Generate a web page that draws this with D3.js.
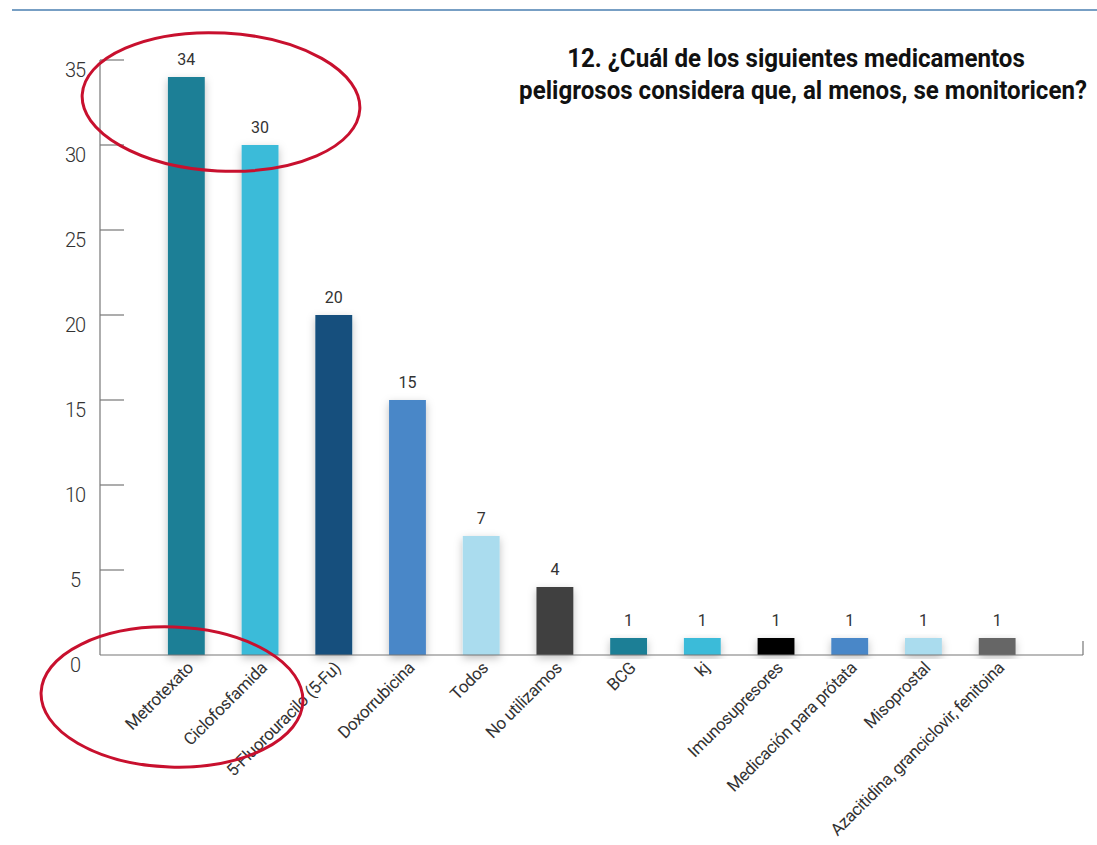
<!DOCTYPE html>
<html>
<head>
<meta charset="utf-8">
<script src="https://cdn.jsdelivr.net/npm/d3@7"></script>
<style>
  body { margin: 0; background: #fff; }
  svg { display: block; font-family: Roboto, "Noto Sans", sans-serif; }
</style>
</head>
<body>
<div id="container"></div>
<script>
/* chart data */
var categories = ["Metrotexato", "Ciclofosfamida", "5-Fluorouracilo (5-Fu)", "Doxorrubicina",
                  "Todos", "No utilizamos", "BCG", "kj", "Imunosupresores",
                  "Medicación para prótata", "Misoprostal", "Azacitidina, granciclovir, fenitoina"];
var values = [34, 30, 20, 15, 7, 4, 1, 1, 1, 1, 1, 1];
var barColors = ["#1f7f96", "#3bbbd9", "#14507d", "#4a87c8", "#aadcee", "#404040",
                 "#1f7f96", "#3bbbd9", "#000000", "#4a87c8", "#aadcee", "#666666"];
var yTicks = [0, 5, 10, 15, 20, 25, 30, 35];
var titleLines = ["12. ¿Cuál de los siguientes medicamentos",
                  "peligrosos considera que, al menos, se monitoricen?"];

var width = 1097, height = 845;

var svg = d3.select("#container").append("svg")
    .attr("width", width)
    .attr("height", height);

// soft shadow behind bars
var defs = svg.append("defs");
var f = defs.append("filter").attr("id", "shadow")
    .attr("x", "-50%").attr("y", "-20%").attr("width", "200%").attr("height", "140%");
f.append("feDropShadow").attr("dx", 0).attr("dy", 3).attr("stdDeviation", 4.5)
    .attr("flood-color", "#000").attr("flood-opacity", 0.25);

// top rule
svg.append("line")
    .attr("x1", 12).attr("x2", width).attr("y1", 10).attr("y2", 10)
    .attr("stroke", "#4a7fb0").attr("stroke-width", 1.5);

var x = d3.scaleBand()
    .domain(categories)
    .range([149.5, 1034])
    .paddingInner(0.5)
    .paddingOuter(0.25);

var y = d3.scaleLinear()
    .domain([0, 35])
    .range([655, 60]);

// y axis
var yAxis = svg.append("g").attr("transform", "translate(100,0)");
yAxis.append("line")
    .attr("x1", 0).attr("x2", 0).attr("y1", y(35)).attr("y2", y(0))
    .attr("stroke", "#777").attr("stroke-width", 1.2);
yAxis.selectAll(".tick")
    .data(yTicks.filter(function(d) { return d > 0; }))
    .enter().append("line")
    .attr("x1", 0).attr("x2", 24)
    .attr("y1", function(d) { return y(d); })
    .attr("y2", function(d) { return y(d); })
    .attr("stroke", "#777").attr("stroke-width", 1.2);
yAxis.selectAll("text")
    .data(yTicks)
    .enter().append("text")
    .attr("x", -25)
    .attr("y", function(d) { return y(d) + 10; })
    .attr("dy", "0.35em")
    .attr("text-anchor", "middle")
    .attr("font-size", 20)
    .attr("font-weight", 300)
    .attr("letter-spacing", -1)
    .attr("fill", "#333")
    .text(function(d) { return d; });

// bars
svg.append("g").selectAll("rect")
    .data(values)
    .enter().append("rect")
    .attr("x", function(d, i) { return x(categories[i]); })
    .attr("y", function(d) { return y(d); })
    .attr("width", x.bandwidth())
    .attr("height", function(d) { return y(0) - y(d); })
    .attr("fill", function(d, i) { return barColors[i]; })
    .attr("filter", "url(#shadow)");

// x axis baseline + end tick
svg.append("line")
    .attr("x1", 100).attr("x2", 1083).attr("y1", y(0)).attr("y2", y(0))
    .attr("stroke", "#777").attr("stroke-width", 1.2);
svg.append("line")
    .attr("x1", 1083).attr("x2", 1083).attr("y1", y(0) - 14).attr("y2", y(0))
    .attr("stroke", "#777").attr("stroke-width", 1.2);

// value labels
svg.append("g").selectAll("text")
    .data(values)
    .enter().append("text")
    .attr("x", function(d, i) { return x(categories[i]) + x.bandwidth() / 2; })
    .attr("y", function(d) { return y(d) - 12; })
    .attr("text-anchor", "middle")
    .attr("font-size", 16)
    .attr("fill", "#333")
    .text(function(d) { return d; });

// category labels
svg.append("g").selectAll("text")
    .data(categories)
    .enter().append("text")
    .attr("transform", function(d) {
        return "translate(" + (x(d) + x.bandwidth() / 2 + 8) + "," + (y(0) + 14) + ") rotate(-45)";
    })
    .attr("text-anchor", "end")
    .attr("font-size", 17)
    .attr("letter-spacing", -0.4)
    .attr("fill", "#333")
    .text(function(d) { return d; });

// title (bold, squeezed horizontally to look condensed)
var titleX = [796, 803], titleW = [458, 568];
svg.append("g").selectAll("text")
    .data(titleLines)
    .enter().append("text")
    .attr("text-anchor", "middle")
    .attr("font-size", 25)
    .attr("font-weight", 700)
    .attr("fill", "#111")
    .text(function(d) { return d; })
    .attr("transform", function(d, i) {
        var sx = titleW[i] / this.getComputedTextLength();
        return "translate(" + titleX[i] + "," + (67 + i * 32) + ") scale(" + sx + ",1)";
    });

// red hand-drawn highlight ellipses
svg.append("ellipse")
    .attr("cx", 221).attr("cy", 102).attr("rx", 139).attr("ry", 69)
    .attr("transform", "rotate(3,221,102)")
    .attr("fill", "none").attr("stroke", "#c8102e").attr("stroke-width", 3);
svg.append("ellipse")
    .attr("cx", 172).attr("cy", 697).attr("rx", 131).attr("ry", 70)
    .attr("transform", "rotate(2,172,697)")
    .attr("fill", "none").attr("stroke", "#c8102e").attr("stroke-width", 3);
</script>
</body>
</html>
